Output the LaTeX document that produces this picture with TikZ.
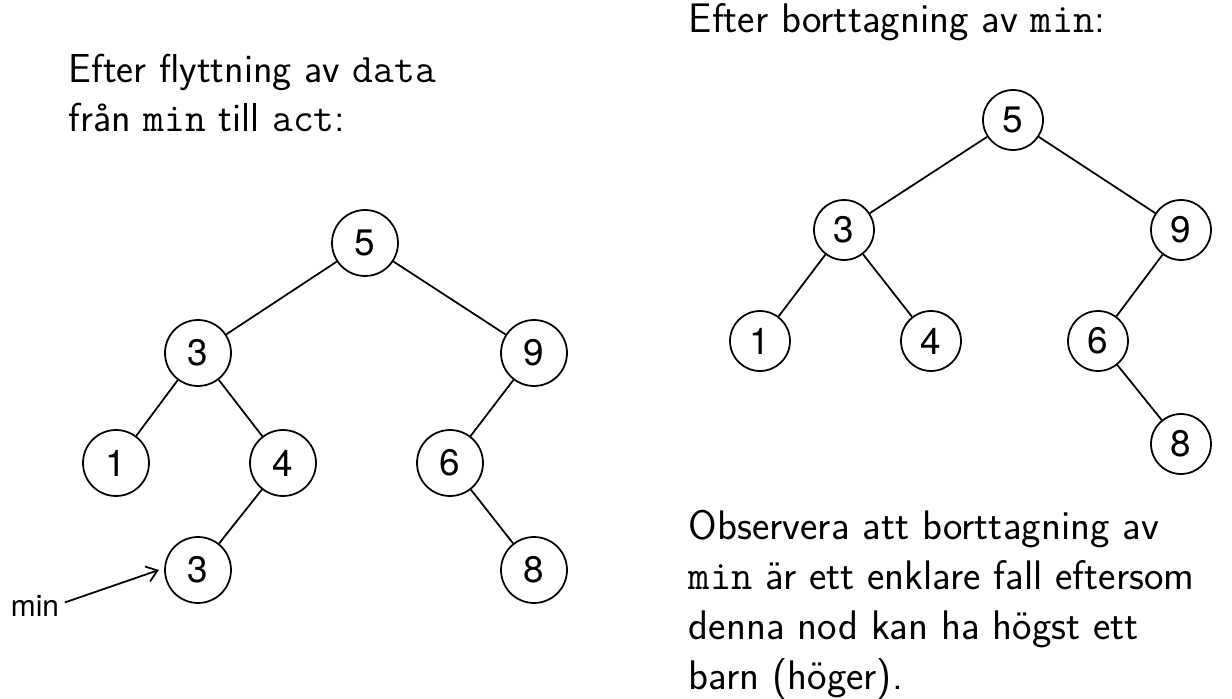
\documentclass[tikz,border=0pt]{standalone}
\usepackage{fontspec}
\newfontfamily\helvfont{TeX Gyre Heros}
\usepackage{tikz}
\usetikzlibrary{arrows.meta}
\tikzset{
	leftstyle/.style={circle,draw=black,line width=1pt,minimum size=1.32cm,inner sep=0pt,font=\helvfont\fontsize{21}{24}\selectfont},
	rightstyle/.style={circle,draw=black,line width=1pt,minimum size=1.2cm,inner sep=0pt,font=\helvfont\fontsize{21}{24}\selectfont},
	textstyle/.style={anchor=base west,align=left,inner sep=0pt,font=\sffamily\fontsize{23}{28.45}\selectfont},
	bigtextstyle/.style={anchor=base west,align=left,inner sep=0pt,font=\sffamily\fontsize{23.5}{28.45}\selectfont}
}

\begin{document}
\begin{tikzpicture}[x=0.02cm,y=-0.02cm,line width=1pt]
	\useasboundingbox (0,0) rectangle (1232,699);
	% titles (base = last line)
	\node[textstyle] (t1) at (68,132) {Efter flyttning av \texttt{data}\\fr\aa n \texttt{min} till \texttt{act}:};
	\node[bigtextstyle] (t2) at (688,33) {Efter borttagning av \texttt{min}:};
	\node[bigtextstyle] (t3) at (688,689) {Observera att borttagning av\\\texttt{min} \"ar ett enklare fall eftersom\\denna nod kan ha h\"ogst ett\\barn (h\"oger).};
	% left tree
	\node[leftstyle] (a) at (365,243) {5};
	\node[leftstyle] (b) at (198,353) {3};
	\node[leftstyle] (c) at (534,353) {9};
	\node[leftstyle] (d) at (116,463) {1};
	\node[leftstyle] (e) at (283,463) {4};
	\node[leftstyle] (f) at (450,463) {6};
	\node[leftstyle] (g) at (198,570) {3};
	\node[leftstyle] (h) at (534,570) {8};
	\draw (a)--(b);
	\draw (a)--(c);
	\draw (b)--(d);
	\draw (b)--(e);
	\draw (c)--(f);
	\draw (e)--(g);
	\draw (f)--(h);
	\node[anchor=base west,inner sep=0pt,font=\helvfont\fontsize{17}{20}\selectfont] (m) at (10,617) {min};
	\draw[-{Straight Barb[length=6pt,width=9pt]}] (m.east)++(5,-4) -- ([xshift=-3pt]g.west);
	% right tree
	\node[rightstyle] (p) at (1013,120) {5};
	\node[rightstyle] (q) at (844,230) {3};
	\node[rightstyle] (r) at (1181,230) {9};
	\node[rightstyle] (s) at (760,341) {1};
	\node[rightstyle] (u) at (931,341) {4};
	\node[rightstyle] (v) at (1098,341) {6};
	\node[rightstyle] (w) at (1181,444) {8};
	\draw (p)--(q);
	\draw (p)--(r);
	\draw (q)--(s);
	\draw (q)--(u);
	\draw (r)--(v);
	\draw (v)--(w);
\end{tikzpicture}
\end{document}
